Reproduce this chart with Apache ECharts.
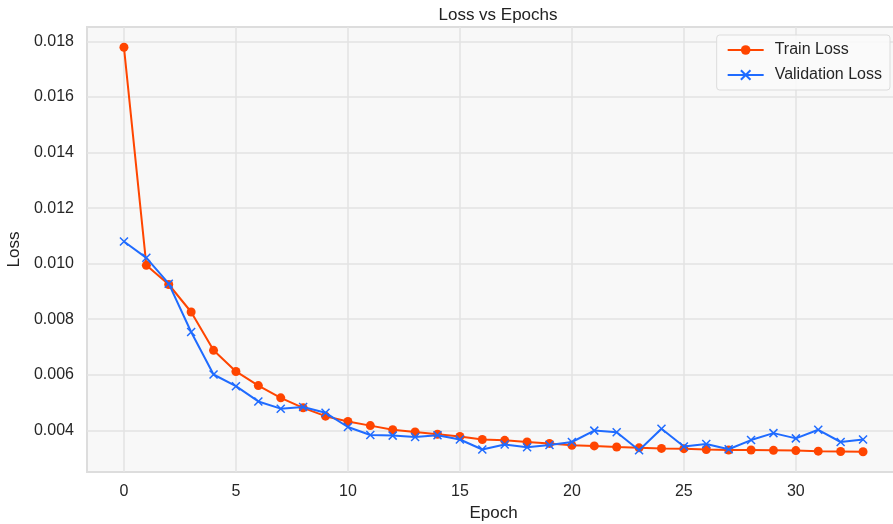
<!DOCTYPE html>
<html>
<head>
<meta charset="utf-8">
<script src="https://cdn.jsdelivr.net/npm/echarts@6/dist/echarts.min.js"></script>
<style>
  html, body { margin: 0; padding: 0; background: #fff; overflow: hidden; }
  #chart { width: 893px; height: 524px; }
</style>
</head>
<body>
<div id="chart"></div>
<script>
const epochs = [0,1,2,3,4,5,6,7,8,9,10,11,12,13,14,15,16,17,18,19,20,21,22,23,24,25,26,27,28,29,30,31,32,33];

const trainLoss = [
  0.01779, 0.00994, 0.00925, 0.00826, 0.00688, 0.00612, 0.00561, 0.00517, 0.00481, 0.00451,
  0.00432, 0.00417, 0.00402, 0.00394, 0.00386, 0.00378, 0.00367, 0.00364, 0.00358, 0.00353,
  0.00346, 0.00344, 0.00340, 0.00337, 0.00335, 0.00334, 0.00331, 0.00329, 0.00329, 0.00328,
  0.00327, 0.00325, 0.00324, 0.00323
];

const valLoss = [
  0.01080, 0.01021, 0.00928, 0.00754, 0.00601, 0.00559, 0.00504, 0.00478, 0.00484, 0.00463,
  0.00412, 0.00383, 0.00381, 0.00376, 0.00382, 0.00367, 0.00331, 0.00349, 0.00339, 0.00347,
  0.00358, 0.00399, 0.00393, 0.00328, 0.00406, 0.00342, 0.00351, 0.00332, 0.00365, 0.00390,
  0.00371, 0.00402, 0.00358, 0.00367
];

const xTicks = [0, 5, 10, 15, 20, 25, 30];
const yTicks = [0.004, 0.006, 0.008, 0.010, 0.012, 0.014, 0.016, 0.018];

const chart = echarts.init(document.getElementById('chart'));

const FONT = 'Liberation Sans, Arial, sans-serif';
const tickFont = { color: '#262626', fontSize: 16, fontFamily: FONT };

const option = {
  animation: false,
  backgroundColor: '#fff',
  title: {
    text: 'Loss vs Epochs',
    left: 493, top: 2, textAlign: 'center',
    textStyle: { fontSize: 17, fontWeight: 'normal', color: '#222', fontFamily: FONT }
  },
  legend: {
    right: 3, top: 35,
    orient: 'vertical',
    itemWidth: 36, itemHeight: 12, itemGap: 9,
    padding: [7, 8, 7, 10],
    backgroundColor: 'rgba(250,250,250,0.9)',
    borderColor: '#dcdcdc', borderWidth: 1, borderRadius: 3,
    textStyle: { fontSize: 16, color: '#262626', fontFamily: FONT, padding: [0, 0, 0, 6] },
    data: ['Train Loss', 'Validation Loss']
  },
  grid: {
    left: 87, top: 27, width: 813, bottom: 52,
    outerBoundsMode: 'none',
    containLabel: false,
    show: true, backgroundColor: '#f8f8f8', borderColor: '#dddddd', borderWidth: 2
  },
  xAxis: {
    type: 'value',
    min: -1.65, max: 34.65,
    name: 'Epoch', nameLocation: 'middle', nameGap: 32,
    nameTextStyle: { fontSize: 17, color: '#222', fontFamily: FONT },
    axisLine: { show: false },
    axisTick: { show: false, customValues: xTicks },
    axisLabel: Object.assign({ customValues: xTicks, margin: 12 }, tickFont),
    splitLine: { show: true, lineStyle: { color: '#e3e3e3', width: 1.5 } }
  },
  yAxis: {
    type: 'value',
    min: 0.0025, max: 0.01852,
    name: 'Loss', nameLocation: 'middle', nameGap: 58, nameRotate: 90,
    nameTextStyle: { fontSize: 17, color: '#222', fontFamily: FONT },
    axisLine: { show: false },
    axisTick: { show: false, customValues: yTicks },
    axisLabel: Object.assign({ customValues: yTicks, margin: 13, formatter: v => v.toFixed(3) }, tickFont),
    splitLine: { show: true, lineStyle: { color: '#e3e3e3', width: 1.5 } }
  },
  series: [
    {
      name: 'Train Loss',
      type: 'line',
      data: epochs.map((e, i) => [e, trainLoss[i]]),
      symbol: 'circle', symbolSize: 9,
      itemStyle: { color: '#ff4500' },
      lineStyle: { color: '#ff4500', width: 2 },
      z: 2
    },
    {
      name: 'Validation Loss',
      type: 'line',
      data: epochs.map((e, i) => [e, valLoss[i]]),
      symbol: 'path://M0,0 L10,10 M10,0 L0,10', symbolSize: 8,
      itemStyle: { color: 'none', borderColor: '#1f6bff', borderWidth: 1.5 },
      lineStyle: { color: '#1f6bff', width: 2 },
      z: 3
    }
  ]
};

chart.setOption(option);
</script>
</body>
</html>
